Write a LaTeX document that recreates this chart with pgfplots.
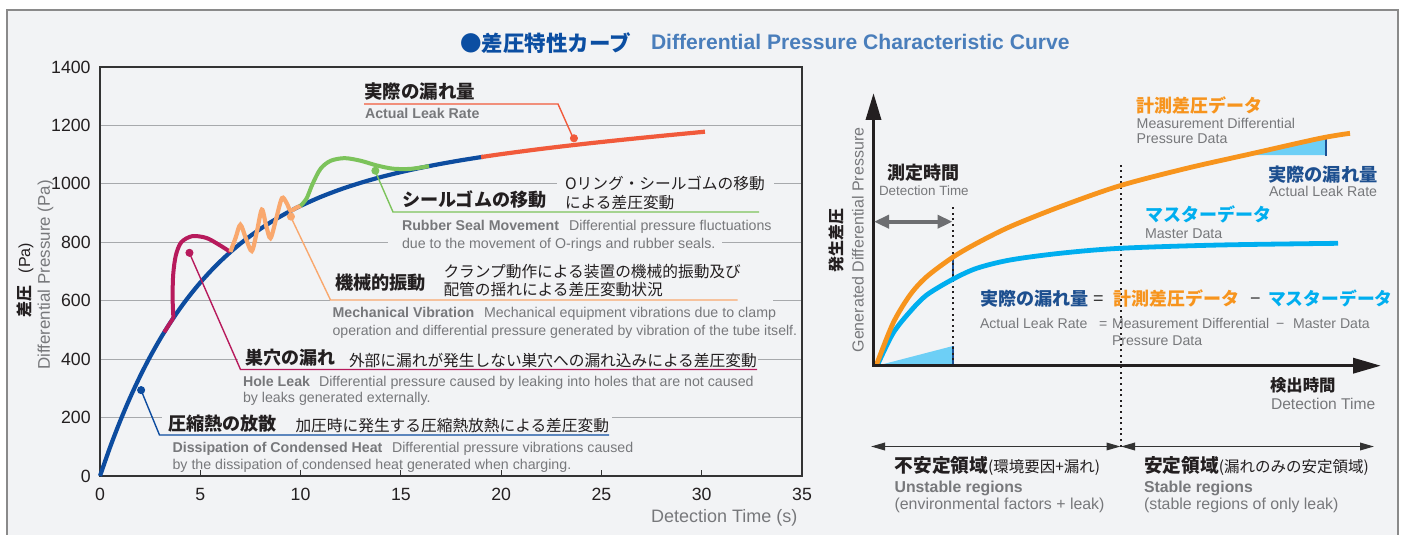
\documentclass[border=0pt]{standalone}
\usepackage{fontspec}
\setmainfont{Liberation Sans}
\newfontfamily\jp{Noto Sans CJK JP}
\usepackage{pgfplots}
\pgfplotsset{compat=1.18}
\usetikzlibrary{arrows.meta}
\definecolor{bgc}{HTML}{F2F3F5}
\definecolor{framec}{HTML}{8A8A8A}
\definecolor{txt}{HTML}{231F20}
\definecolor{gtxt}{HTML}{77787B}
\definecolor{ttlblue}{HTML}{0B4EA2}
\definecolor{ttlblue2}{HTML}{4A7EBB}
\definecolor{cblue}{HTML}{0D4C9F}
\definecolor{cpink}{HTML}{B71A5C}
\definecolor{corange}{HTML}{F9A86E}
\definecolor{cgreen}{HTML}{7CC35B}
\definecolor{cred}{HTML}{F15A3B}
\definecolor{gridc}{HTML}{A7A9AC}
\definecolor{axisc}{HTML}{333333}
\definecolor{rorange}{HTML}{F7941D}
\definecolor{rcyan}{HTML}{00AEEF}
\definecolor{rfill}{HTML}{6DCFF6}
\definecolor{rdblue}{HTML}{1C4F94}
\definecolor{rtblue}{HTML}{1D4F8F}
\definecolor{garrow}{HTML}{6D6E71}
\newcommand\fs[1]{\fontsize{#1}{#1}\selectfont}
\begin{document}
\begin{tikzpicture}[x=0.5pt,y=-0.5pt, t/.style={anchor=base west, inner sep=0pt, outer sep=0pt}]
\useasboundingbox (0,0) rectangle (1403,535);
\fill[white] (0,0) rectangle (1403,535);
\fill[bgc] (7,10) rectangle (1398,545);
\draw[framec, line width=0.7pt] (7,545) -- (7,10) -- (1398,10) -- (1398,545);

% title
\node[t, text=ttlblue] at (460,51.5) {\jp\bfseries\fs{10.75}●差圧特性カーブ};
\node[t, text=ttlblue2] at (651,50) {\bfseries\fs{10.55}Differential Pressure Characteristic Curve};

% ---------------- left chart ----------------
\begin{axis}[at={(50pt,-238pt)}, anchor=south west, scale only axis,
  width=351pt, height=204.5pt,
  xmin=0, xmax=35, ymin=0, ymax=1400,
  xtick={0,5,...,35}, ytick={0,200,...,1400},
  scaled ticks=false, /pgf/number format/1000 sep={},
  /pgf/number format/assume math mode=true,
  tick align=inside, xtick pos=bottom, ytick pos=left,
  major tick length=3pt,
  xtick style={axisc, line width=0.6pt}, ytick style={draw=none},
  ymajorgrids, major grid style={gridc, line width=0.6pt},
  axis line style={axisc, line width=0.7pt},
  ticklabel style={font=\fs{8.85}, text=txt},
  xticklabel style={inner sep=0pt, anchor=north, yshift=-5.8pt},
  yticklabel style={inner sep=0pt, anchor=east, xshift=-4.5pt},
  clip=false]
% main curve
\addplot[cblue, line width=2.1pt, smooth] coordinates {(0,0)(0.5,98.2)(1,187.3)(1.5,268.2)(2,341.7)(2.5,408.5)(3,469.2)(3.5,524.4)(4,574.7)(4.5,620.4)(5,662.1)(5.5,700.1)(6,734.8)(6.5,766.5)(7,795.4)(7.5,821.9)(8,846.1)(8.5,868.3)(9,888.7)(9.5,907.4)(10,924.7)(11,955.2)(12,981.3)(13,1003.7)(14,1023.2)(15,1040.2)(16,1055.2)(17,1068.6)(18,1080.7)(19,1091.6)(19.1,1092.6)};
\addplot[cred, line width=2.1pt, smooth] coordinates {(19,1091.6)(20,1101.7)(22,1119.7)(24,1135.8)(26,1150.5)(28,1164.3)(30,1177.5)(30.1,1178.1)};
% hole leak
\addplot[cpink, line width=2pt] coordinates {(3.2,491.9)(3.45,519.1)(3.66,541)};
\addplot[cpink, line width=2pt, smooth] coordinates {(3.66,541)(3.62,610)(3.65,690)(3.78,755)(4.05,800)(4.6,821)(5.3,815)(5.9,793)(6.5,767)};
% mechanical vibration
\addplot[corange, line width=2.1pt, smooth] coordinates {(6.5,767)(6.76,815)(7.0,860)(7.28,812)(7.57,770)(7.82,836)(8.07,912)(8.28,858)(8.5,814)(8.78,880)(9.07,951)(9.3,935)(9.5,908)(9.75,917)(10.02,925.5)};
% rubber seal
\addplot[cgreen, line width=2pt, smooth] coordinates {(10.0,924.7)(10.3,950)(10.6,1000)(11.0,1052)(11.5,1079)(12.2,1088)(13.0,1079)(13.8,1063)(14.6,1052)(15.4,1051)(16.0,1056)(16.4,1061)};
% callout dots
\addplot[only marks, mark=*, mark size=1.8pt, cblue] coordinates {(2.05,294)};
\addplot[only marks, mark=*, mark size=1.8pt, cpink] coordinates {(4.46,764)};
\addplot[only marks, mark=*, mark size=1.8pt, corange] coordinates {(9.52,888)};
\addplot[only marks, mark=*, mark size=1.8pt, cgreen] coordinates {(13.73,1045)};
\addplot[only marks, mark=*, mark size=1.8pt, cred] coordinates {(23.63,1156)};
\end{axis}

% masks over grid lines behind labels
\fill[bgc] (162,411) rectangle (612,433);
\fill[bgc] (238,351) rectangle (758,366.5);
\fill[bgc] (330,297.5) rectangle (773,304);
\fill[bgc] (388,236.5) rectangle (722,249);
\fill[bgc] (557,177.5) rectangle (774,191);

% leader lines
\draw[cblue, line width=0.7pt] (141,390) -- (159.5,435) -- (609,435);
\draw[cpink, line width=0.7pt] (189.3,252.7) -- (240.5,369.5) -- (757,369.5);
\draw[corange, line width=0.7pt] (290.7,216.7) -- (330.5,300) -- (737.5,300);
\draw[cgreen, line width=0.7pt] (375,170.7) -- (393,212) -- (759,212);
\draw[cred, line width=0.7pt] (573.3,138.3) -- (558,104) -- (364,104);

% left chart texts
\node[t, text=txt] at (364,98.7) {\jp\bfseries\fs{9.25}実際の漏れ量};
\node[t, text=gtxt] at (365,119) {\bfseries\fs{7.1}Actual Leak Rate};

\node[t, text=txt] at (402,206) {\jp\bfseries\fs{9.05}シールゴムの移動};
\node[t, text=txt] at (565,190) {\jp\fs{7.85}Oリング・シールゴムの移動};
\node[t, text=txt] at (565,208.5) {\jp\fs{7.85}による差圧変動};
\node[t, text=gtxt] at (402,230) {\bfseries\fs{7.1}Rubber Seal Movement};
\node[t, text=gtxt] at (569,230) {\fs{7.1}Differential pressure fluctuations};
\node[t, text=gtxt] at (402,248) {\fs{7.1}due to the movement of O-rings and rubber seals.};

\node[t, text=txt] at (335,289.4) {\jp\bfseries\fs{9.1}機械的振動};
\node[t, text=txt] at (443.5,277.7) {\jp\fs{7.85}クランプ動作による装置の機械的振動及び};
\node[t, text=txt] at (443.5,295.7) {\jp\fs{7.85}配管の揺れによる差圧変動状況};
\node[t, text=gtxt] at (332.6,317.3) {\bfseries\fs{7.1}Mechanical Vibration};
\node[t, text=gtxt] at (484,317.3) {\fs{7.1}Mechanical equipment vibrations due to clamp};
\node[t, text=gtxt] at (332.6,335.5) {\fs{7.05}operation and differential pressure generated by vibration of the tube itself.};

\node[t, text=txt] at (245,364.8) {\jp\bfseries\fs{9}巣穴の漏れ};
\node[t, text=txt] at (349,366) {\jp\fs{7.85}外部に漏れが発生しない巣穴への漏れ込みによる差圧変動};
\node[t, text=gtxt] at (243,386) {\bfseries\fs{7.1}Hole Leak};
\node[t, text=gtxt] at (319,386) {\fs{7.1}Differential pressure caused by leaking into holes that are not caused};
\node[t, text=gtxt] at (243,402) {\fs{7.1}by leaks generated externally.};

\node[t, text=txt] at (168,430.5) {\jp\bfseries\fs{9.05}圧縮熱の放散};
\node[t, text=txt] at (295.5,431.5) {\jp\fs{7.85}加圧時に発生する圧縮熱放熱による差圧変動};
\node[t, text=gtxt] at (172.6,452.5) {\bfseries\fs{7.1}Dissipation of Condensed Heat};
\node[t, text=gtxt] at (392,452.5) {\fs{7.1}Differential pressure vibrations caused};
\node[t, text=gtxt] at (172.6,469) {\fs{7.1}by the dissipation of condensed heat generated when charging.};

% axis labels
\node[t, text=gtxt] at (651,522) {\fs{9}Detection Time (s)};
\node[rotate=90, inner sep=0pt, text=txt] at (25,280) {{\jp\bfseries\fs{8}差圧}\hspace{6pt}{\fs{8}(Pa)}};
\node[rotate=90, inner sep=0pt, text=gtxt] at (45.5,275) {\fs{8.45}Differential Pressure (Pa)};

% ---------------- right chart ----------------
\begin{axis}[at={(436.5pt,-183pt)}, anchor=south west, scale only axis,
  width=257.5pt, height=137pt, xmin=0, xmax=515, ymin=0, ymax=274,
  hide axis, clip=false]
\addplot[fill=rfill, draw=none] coordinates {(3,0)(80,20)(80,0)};
\addplot[fill=rfill, draw=none] coordinates {(378,211)(453,228.5)(453,211)};
\addplot[rdblue, line width=1.35pt] coordinates {(80,0)(80,20)};
\addplot[rdblue, line width=1.35pt] coordinates {(80,86)(80,109)};
\addplot[rdblue, line width=1.35pt] coordinates {(453,210)(453,228)};
\addplot[txt, line width=1pt, dash pattern=on 1pt off 1.8pt] coordinates {(80,0)(80,159.3)};
\addplot[txt, line width=1pt, dash pattern=on 1pt off 1.8pt] coordinates {(247.7,-80.5)(247.7,201)};
\addplot[rcyan, line width=2.4pt, smooth] coordinates {(4,0)(20,32.7)(37,54.3)(53.7,71)(79.7,86.7)(103.7,97.7)(137,106)(187,112.7)(247,117.7)(347,121)(465,122.7)};
\addplot[rorange, line width=2.4pt, smooth] coordinates {(3,0)(20,42.7)(37,71)(53.7,89.3)(79.7,108.7)(103.7,122.7)(137,139.3)(187,159.3)(247,180.3)(313.7,197.7)(380.3,212.7)(447,227.7)(477,232.7)};
\end{axis}

% right axes arrows
\draw[txt, line width=1.75pt, -{Triangle[length=13.5pt,width=7.5pt]}] (873.5,366.6) -- (873.5,93);
\draw[txt, line width=1.75pt, -{Triangle[length=14pt,width=7.5pt]}] (872.6,365.7) -- (1381,365.7);
% detection time double arrow
\draw[garrow, line width=2pt, {Triangle[length=7.5pt,width=6.5pt]}-{Triangle[length=7.5pt,width=6.5pt]}] (874,221.7) -- (952.5,221.7);
% lower region arrows
\draw[axisc, line width=0.75pt, {Triangle[length=7pt,width=3.8pt]}-{Triangle[length=7pt,width=3.8pt]}] (871,446.5) -- (1120.5,446.5);
\draw[axisc, line width=0.75pt, {Triangle[length=7pt,width=3.8pt]}-{Triangle[length=7pt,width=3.8pt]}] (1121,446.5) -- (1374,446.5);

% right texts
\node[t, text=rorange] at (1136.7,112.6) {\jp\bfseries\fs{9}計測差圧データ};
\node[t, text=gtxt] at (1136.7,128.3) {\fs{7.1}Measurement Differential};
\node[t, text=gtxt] at (1136.7,143.3) {\fs{7.1}Pressure Data};
\node[t, text=rtblue] at (1268,182) {\jp\bfseries\fs{9.15}実際の漏れ量};
\node[t, text=gtxt] at (1269,196.7) {\fs{7.1}Actual Leak Rate};
\node[t, text=rcyan] at (1145,221.8) {\jp\bfseries\fs{9}マスターデータ};
\node[t, text=gtxt] at (1145,238.3) {\fs{7.1}Master Data};
\node[t, text=txt] at (887,179.5) {\jp\bfseries\fs{9}測定時間};
\node[t, text=gtxt] at (879,195) {\fs{6.7}Detection Time};
\node[rotate=90, inner sep=0pt, text=txt] at (836.5,240) {\jp\bfseries\fs{8}発生差圧};
\node[rotate=90, inner sep=0pt, text=gtxt] at (858,240) {\fs{8}Generated Differential Pressure};

\node[t, text=rtblue] at (980,305.2) {\jp\bfseries\fs{9.05}実際の漏れ量};
\node[t, text=axisc] at (1093,304.5) {\fs{9}=};
\node[t, text=rorange] at (1113,305.2) {\jp\bfseries\fs{9}計測差圧データ};
\node[t, text=axisc] at (1250,304.5) {\fs{9}−};
\node[t, text=rcyan] at (1268,305.2) {\jp\bfseries\fs{8.9}マスターデータ};
\node[t, text=gtxt] at (980,328.5) {\fs{7.05}Actual Leak Rate};
\node[t, text=gtxt] at (1099,328.5) {\fs{7.05}=};
\node[t, text=gtxt] at (1112,328.5) {\fs{7.05}Measurement Differential};
\node[t, text=gtxt] at (1276,328.5) {\fs{7.05}−};
\node[t, text=gtxt] at (1293,328.5) {\fs{7.05}Master Data};
\node[t, text=gtxt] at (1112,345) {\fs{7.05}Pressure Data};

\node[t, text=txt] at (1270,391.3) {\jp\bfseries\fs{8.2}検出時間};
\node[t, text=gtxt] at (1271,409.3) {\fs{7.8}Detection Time};

\node[t, text=txt] at (894.6,472.1) {{\jp\bfseries\fs{9.35}不安定領域}{\jp\fs{7.75}(環境要因+漏れ)}};
\node[t, text=gtxt] at (894.6,492.5) {\bfseries\fs{7.9}Unstable regions};
\node[t, text=gtxt] at (894.6,509) {\fs{7.95}(environmental factors + leak)};
\node[t, text=txt] at (1144,472.1) {{\jp\bfseries\fs{9.35}安定領域}{\jp\fs{7.75}(漏れのみの安定領域)}};
\node[t, text=gtxt] at (1144,492.5) {\bfseries\fs{7.9}Stable regions};
\node[t, text=gtxt] at (1144,509) {\fs{7.95}(stable regions of only leak)};
\end{tikzpicture}
\end{document}
